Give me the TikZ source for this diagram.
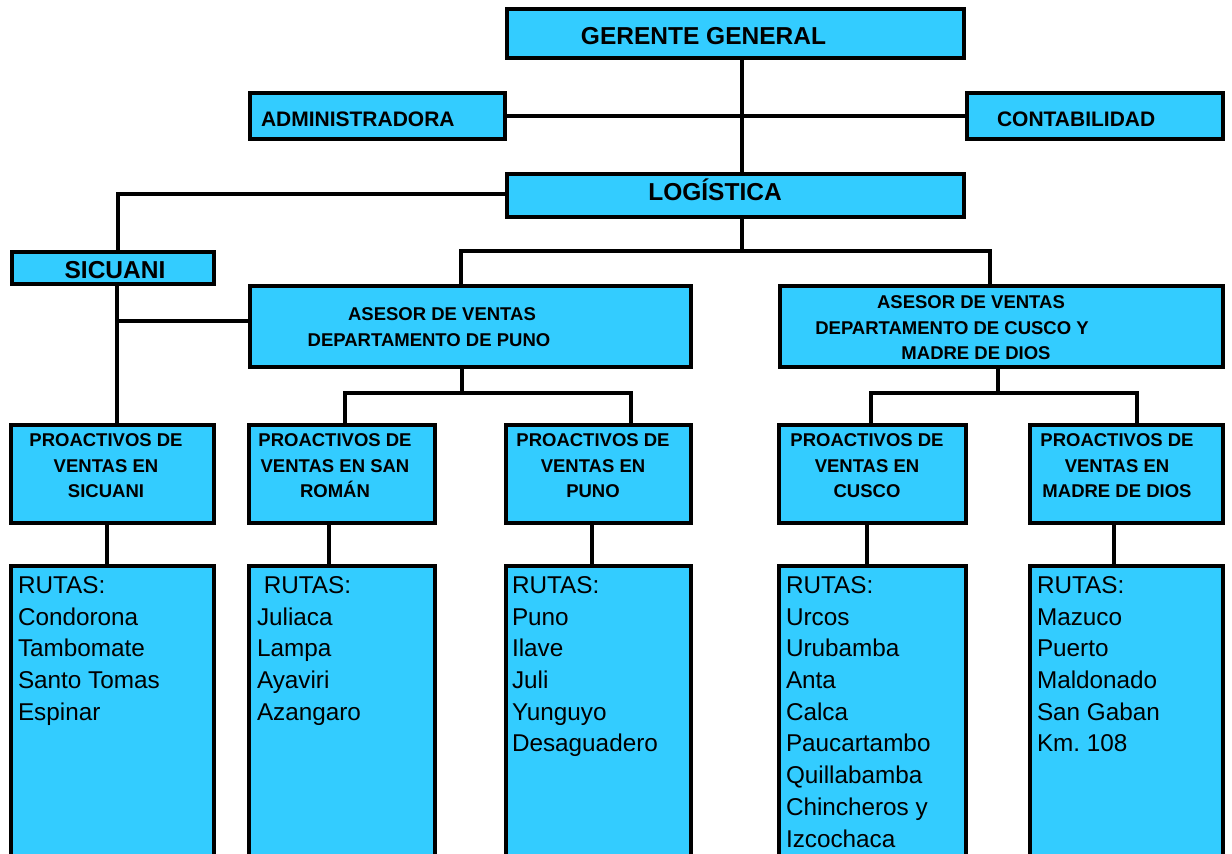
\documentclass[tikz,border=0pt]{standalone}
\usepackage{fontspec}
\setmainfont{Liberation Sans}
\usetikzlibrary{positioning, calc}
\definecolor{cajaazul}{HTML}{33CCFF}

\begin{document}
\begin{tikzpicture}[x=1pt, y=-1pt, line width=4pt,
    caja/.style={draw=black, fill=cajaazul, line width=4pt, inner sep=0pt},
    tgrande/.style={font=\bfseries\fontsize{24.5}{30}\selectfont, inner sep=0pt, anchor=base},
    tmedio/.style={font=\bfseries\fontsize{21}{26}\selectfont, inner sep=0pt, anchor=base west},
    tchico/.style={font=\bfseries\fontsize{18.5}{25.6}\selectfont, inner sep=0pt, align=center, anchor=north},
    truta/.style={font=\fontsize{24.3}{31.7}\selectfont, inner sep=0pt, align=left, anchor=north west}]
      \useasboundingbox (0,0) rectangle (1232,854);
      \clip (0,0) rectangle (1232,854);

      % cajas de direccion
      \node[caja, minimum width=457, minimum height=49] (ger) at (735.5,33.5) {};
      \node[caja, minimum width=255, minimum height=46] (adm) at (377.5,116) {};
      \node[caja, minimum width=256, minimum height=46] (con) at (1095,116) {};
      \node[caja, minimum width=457, minimum height=43] (log) at (735.5,195.5) {};
      \node[caja, minimum width=202, minimum height=32] (sic) at (113,268) {};
      \node[caja, minimum width=441, minimum height=81] (apu) at (470.5,326.5) {};
      \node[caja, minimum width=443, minimum height=81] (acu) at (1001.5,326.5) {};

      % proactivos y rutas
      \foreach \n/\cx/\w in {sic/112.5/203, sr/342/186, pu/598.5/185, cu/872.5/187, md/1126.5/193} {
        \node[caja, minimum width=\w, minimum height=98] (p\n) at (\cx,474) {};
        \node[caja, minimum width=\w, minimum height=332] (r\n) at (\cx,732) {};
      }

      % conectores
      \coordinate (jL) at (742,251);
      \coordinate (jS) at (117,321);
      \coordinate (jP) at (462,393);
      \coordinate (jC) at (998,393);
      \draw ([xshift=6.5pt]ger.south) -- ([xshift=6.5pt]log.north);
      \draw (adm.east) -- (con.west);
      \draw ([yshift=2pt]log.west) -| ([xshift=5pt]sic.north);
      \draw ([xshift=6.5pt]log.south) -- (jL);
      \draw ([xshift=-9.5pt]apu.north) |- (jL) -| ([xshift=-12pt]acu.north);
      \draw ([xshift=4pt]sic.south) -- ([xshift=4.5pt]psic.north);
      \draw (jS) -- (jS -| apu.west);
      \draw ([xshift=-8.5pt]apu.south) -- (jP);
      \draw ([xshift=3pt]psr.north) |- (jP) -| ([xshift=32.5pt]ppu.north);
      \draw ([xshift=-3.5pt]acu.south) -- (jC);
      \draw ([xshift=-1.5pt]pcu.north) |- (jC) -| ([xshift=10pt]pmd.north);
      \foreach \n/\dx in {sic/-5.5, sr/-13, pu/-6.5, cu/-5.5, md/-12.5}
        \draw ([xshift=\dx pt]p\n.south) -- ([xshift=\dx pt]r\n.north);

      % textos
      \node[tgrande] (tger) at (703.5,44) {GERENTE GENERAL};
      \node[tmedio] (tadm) at (259,126) {ADMINISTRADORA};
      \node[tmedio] (tcon) at (995,126) {CONTABILIDAD};
      \node[tgrande] (tlog) at (715,200) {LOGÍSTICA};
      \node[tgrande] (tsic) at (115,278) {SICUANI};
      \node[tchico] (tapu) at (429,305.5) {\hspace*{26pt}ASESOR DE VENTAS\\DEPARTAMENTO DE PUNO};
      \node[tchico] (tacu) at (952,293.5) {\hspace*{38pt}ASESOR DE VENTAS\\DEPARTAMENTO DE CUSCO Y\\\hspace*{48pt}MADRE DE DIOS};

      \node[tchico] (tpsic) at (106,431.5) {PROACTIVOS DE\\VENTAS EN\\SICUANI};
      \node[tchico] (tpsr) at (335,431.5) {PROACTIVOS DE\\VENTAS EN SAN\\ROMÁN};
      \node[tchico] (tppu) at (593,431.5) {PROACTIVOS DE\\VENTAS EN\\PUNO};
      \node[tchico] (tpcu) at (867,431.5) {PROACTIVOS DE\\VENTAS EN\\CUSCO};
      \node[tchico] (tpmd) at (1117,431.5) {PROACTIVOS DE\\VENTAS EN\\MADRE DE DIOS};

      \node[truta] (trsic) at (16,574.5) {RUTAS:\\Condorona\\Tambomate\\Santo Tomas\\Espinar};
      \node[truta] (trsr) at (255,574.5) {\hspace*{6.75pt}RUTAS:\\Juliaca\\Lampa\\Ayaviri\\Azangaro};
      \node[truta] (trpu) at (510,574.5) {RUTAS:\\Puno\\Ilave\\Juli\\Yunguyo\\Desaguadero};
      \node[truta] (trcu) at (784,574.5) {RUTAS:\\Urcos\\Urubamba\\Anta\\Calca\\Paucartambo\\Quillabamba\\Chincheros y\\Izcochaca};
      \node[truta] (trmd) at (1035,574.5) {RUTAS:\\Mazuco\\Puerto\\Maldonado\\San Gaban\\Km.\ 108};
    \end{tikzpicture}
\end{document}
